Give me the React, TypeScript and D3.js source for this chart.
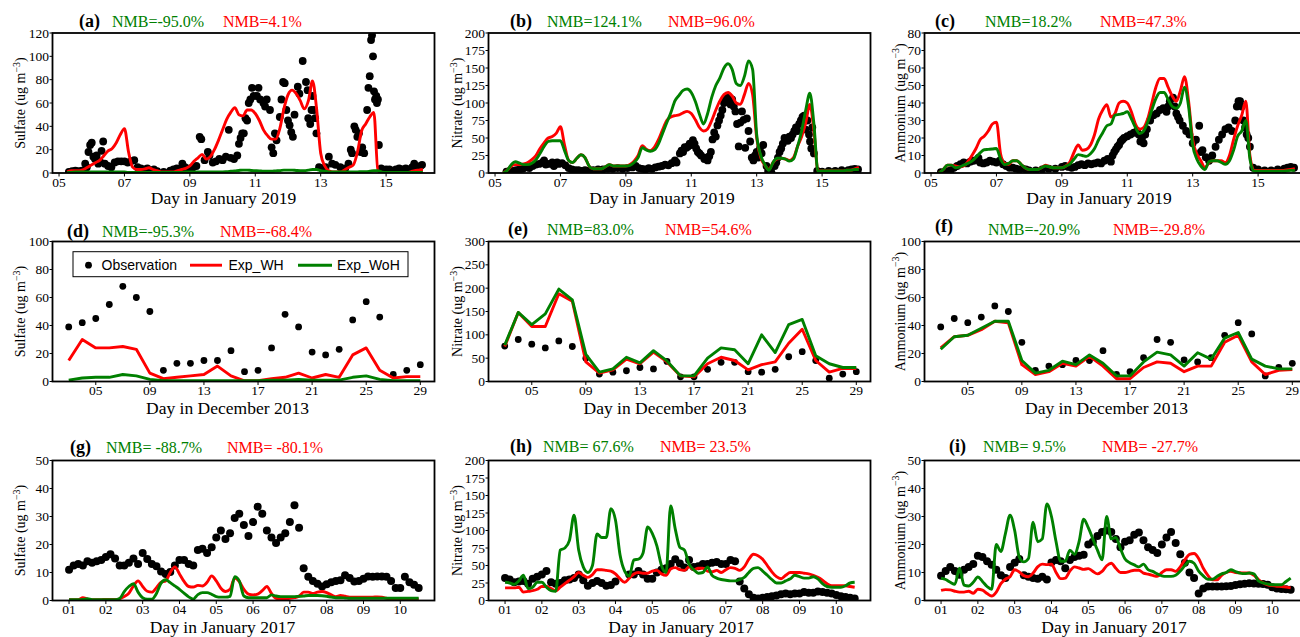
import * as d3 from "d3";

// ---------------- data ----------------
const RED = "#ff0000";
const GREEN = "#008000";

// hourly model output is sampled every 3 h (0.125 day)
const hourStep = 0.125;
const jan19Start = 5.25;
const jan17Start = 1.0;
const decDays = [3, 4, 5, 6, 7, 8, 9, 10, 11, 12, 13, 14, 15, 16, 17, 18, 19, 20, 21, 22, 23, 24, 25, 26, 27, 28, 29];

const jan19Ticks = [5, 7, 9, 11, 13, 15];
const dec13Ticks = [5, 9, 13, 17, 21, 25, 29];
const jan17Ticks = [1, 2, 3, 4, 5, 6, 7, 8, 9, 10];

// (a) sulfate, January 2019
const sulfateJan19Obs = [
  [5.3, 1], [5.4, 1.5], [5.5, 2], [5.6, 1.5], [5.7, 2], [5.8, 8], [5.85, 5], [5.9, 18], [5.95, 24], [6.0, 26],
  [6.05, 14], [6.1, 12], [6.15, 15], [6.2, 8], [6.25, 10], [6.3, 19], [6.35, 27], [6.4, 8], [6.5, 6], [6.6, 5],
  [6.7, 9], [6.8, 10], [6.9, 10], [7.0, 10], [7.1, 9], [7.2, 10], [7.3, 11], [7.4, 5], [7.5, 4], [7.6, 3],
  [7.7, 4], [7.8, 2], [7.9, 3], [8.0, 1.5], [8.2, 1], [8.4, 2], [8.5, 3], [8.6, 4], [8.7, 3], [8.77, 8],
  [8.85, 5], [9.0, 4], [9.1, 5], [9.2, 6], [9.3, 31], [9.35, 29], [9.45, 11], [9.55, 18], [9.6, 15], [9.7, 9],
  [9.8, 10], [9.9, 12], [10.0, 11], [10.1, 14], [10.19, 37], [10.25, 13], [10.35, 12], [10.45, 15], [10.5, 25], [10.55, 30],
  [10.6, 34], [10.65, 34], [10.7, 47], [10.75, 45], [10.8, 60], [10.85, 63], [10.9, 73], [10.95, 66], [11.05, 66], [11.1, 73],
  [11.15, 63], [11.25, 60], [11.3, 57], [11.35, 63], [11.45, 54], [11.5, 22], [11.55, 17], [11.6, 34], [11.65, 28], [11.75, 48],
  [11.8, 63], [11.85, 78], [11.9, 77], [11.95, 54], [12.0, 45], [12.05, 41], [12.1, 35], [12.15, 31], [12.2, 50], [12.3, 74],
  [12.35, 68], [12.45, 96], [12.55, 78], [12.6, 71], [12.62, 47], [12.68, 42], [12.72, 54], [12.75, 66], [12.8, 54], [12.83, 47],
  [12.87, 34], [12.95, 5], [13.05, 4], [13.15, 5], [13.25, 14], [13.35, 8], [13.45, 7], [13.6, 5], [13.75, 4], [13.85, 8],
  [13.92, 20], [13.96, 17], [14.03, 40], [14.07, 37], [14.12, 31], [14.17, 34], [14.22, 18], [14.27, 22], [14.33, 17], [14.42, 54],
  [14.46, 73], [14.5, 83], [14.54, 114], [14.57, 118], [14.6, 100], [14.63, 70], [14.66, 63], [14.7, 66], [14.72, 60], [14.75, 63],
  [14.78, 24], [14.85, 4], [15.0, 3], [15.1, 3], [15.2, 2], [15.3, 3], [15.4, 4], [15.5, 3], [15.6, 4], [15.7, 3],
  [15.8, 5], [15.86, 8], [15.95, 5], [16.05, 6], [16.1, 7],
];
const sulfateJan19WH = [
  1, 2, 2, 2, 3, 5, 7, 9, 11, 15, 19, 21, 26, 33, 38, 18, 5, 3, 3, 3.5,
  4.5, 3, 2, 1, 1, 1, 1, 2, 3, 4, 6, 10, 13, 16, 12, 14, 20, 28, 37, 46,
  52, 56, 50, 49, 54, 54, 51, 45, 37, 32, 29, 29, 38, 55, 67, 71, 68, 62, 55, 62,
  79, 55, 17, 6, 2, 1, 1, 1, 3, 5, 7, 18, 36, 42, 48, 52, 2, 0.5, 0.5, 0.5,
  0.5, 0.5, 0.5, 0.5, 1, 2, 2.5, 3,
];
const sulfateJan19WoH = [
  0.5, 0.5, 0.8, 0.8, 1, 1, 1, 1, 1, 1, 1, 1, 1, 1, 0.8, 0.5, 0.5, 0.5, 0.5, 0.5,
  0.5, 0.5, 0.5, 0.5, 0.5, 0.5, 0.5, 0.5, 0.5, 0.8, 1, 1, 1, 1, 1, 1, 1, 1, 1, 1.2,
  1.5, 1.8, 2.2, 2.5, 2.5, 2.2, 2, 1.8, 1.5, 1.5, 1.5, 1.8, 2, 2.5, 2.5, 2.5, 2.2, 2, 2, 2.5,
  3, 3, 2, 1.5, 1, 1, 1, 1, 1, 1, 1, 1, 1.2, 1.2, 1.5, 2, 2, 0.8, 0.5, 0.5,
  0.5, 0.5, 0.5, 0.5, 0.5, 0.5, 0.5, 0.5,
];

// (b) nitrate, January 2019
const nitrateJan19Obs = [
  [5.35, 2], [5.45, 3], [5.55, 3], [5.65, 4], [5.75, 5], [5.85, 6], [5.95, 8], [6.05, 7], [6.15, 10], [6.25, 12],
  [6.35, 13], [6.45, 15], [6.5, 18], [6.55, 12], [6.65, 13], [6.75, 15], [6.8, 10], [6.9, 15], [6.95, 13], [7.05, 14],
  [7.15, 11], [7.25, 7], [7.35, 5], [7.45, 4], [7.55, 4], [7.65, 3], [7.75, 4], [7.85, 3], [8.0, 4], [8.15, 5],
  [8.3, 5], [8.45, 6], [8.6, 6], [8.75, 7], [8.9, 6], [9.05, 7], [9.2, 8], [9.3, 10], [9.4, 7], [9.5, 6],
  [9.6, 5], [9.7, 7], [9.8, 6], [9.9, 8], [10.0, 9], [10.1, 10], [10.2, 12], [10.3, 11], [10.4, 14], [10.5, 18],
  [10.55, 15], [10.65, 28], [10.7, 32], [10.75, 30], [10.8, 37], [10.85, 36], [10.9, 38], [10.95, 42], [11.0, 40], [11.05, 47],
  [11.1, 42], [11.15, 35], [11.2, 30], [11.25, 28], [11.3, 25], [11.4, 20], [11.45, 22], [11.5, 18], [11.55, 24], [11.6, 30],
  [11.65, 48], [11.7, 58], [11.75, 52], [11.8, 68], [11.85, 75], [11.9, 82], [11.95, 90], [12.0, 100], [12.05, 106], [12.1, 108],
  [12.15, 103], [12.2, 98], [12.25, 105], [12.3, 95], [12.35, 88], [12.4, 70], [12.45, 38], [12.5, 72], [12.55, 88], [12.6, 76],
  [12.65, 36], [12.7, 78], [12.75, 60], [12.8, 45], [12.85, 22], [12.9, 18], [12.95, 25], [13.0, 30], [13.05, 22], [13.1, 35],
  [13.15, 28], [13.2, 40], [13.3, 10], [13.35, 3], [13.45, 1], [13.55, 10], [13.6, 15], [13.65, 22], [13.7, 30], [13.75, 35],
  [13.8, 42], [13.85, 50], [13.9, 48], [13.95, 46], [14.0, 52], [14.05, 50], [14.1, 55], [14.15, 60], [14.2, 65], [14.25, 60],
  [14.3, 70], [14.35, 75], [14.4, 80], [14.45, 82], [14.5, 62], [14.55, 75], [14.6, 55], [14.63, 45], [14.67, 35], [14.7, 65],
  [14.75, 28], [14.85, 3], [15.0, 2], [15.2, 3], [15.4, 3], [15.6, 4], [15.8, 4], [15.9, 5], [16.0, 6], [16.1, 5],
];
const nitrateJan19WH = [
  0, 4, 10, 12, 12, 13, 15, 19, 25, 35, 43, 50, 52, 57, 66, 40, 18, 15, 21, 26,
  22, 10, 6, 6, 6, 9, 12, 10, 10, 10, 10, 12, 17, 25, 39, 34, 32, 37, 48, 62,
  75, 80, 82, 83, 86, 88, 85, 76, 65, 60, 63, 75, 90, 103, 112, 115, 110, 100, 98, 112,
  128, 112, 50, 22, 11, 5, 15, 20, 21, 20, 18, 22, 38, 52, 72, 98, 60, 3, 3, 3,
  3, 3, 3, 3, 4, 4, 6, 8,
];
const nitrateJan19WoH = [
  0, 4, 12, 16, 14, 12, 12, 14, 19, 28, 38, 45, 46, 46, 46, 32, 18, 15, 21, 26,
  22, 10, 6, 6, 6, 9, 12, 10, 10, 10, 10, 11, 15, 22, 36, 33, 31, 33, 42, 57,
  72, 86, 103, 111, 118, 120, 115, 102, 84, 70, 85, 108, 125, 136, 150, 156, 148, 128, 125, 138,
  160, 148, 55, 25, 12, 4, 15, 21, 21, 20, 17, 20, 38, 60, 90, 114, 70, 2, 3, 3,
  3, 3, 3, 3, 4, 4, 5, 5,
];

// (c) ammonium, January 2019
const ammoniumJan19Obs = [
  [5.3, 0.5], [5.4, 0.5], [5.5, 1], [5.6, 1.5], [5.7, 3], [5.8, 4], [5.9, 5], [6.0, 6], [6.1, 5.5], [6.2, 6.5],
  [6.3, 7], [6.4, 7.5], [6.45, 8.6], [6.5, 6], [6.6, 5.5], [6.7, 6], [6.8, 7], [6.9, 6.5], [7.0, 6], [7.1, 7],
  [7.2, 5], [7.3, 4], [7.4, 3], [7.5, 3], [7.6, 2.5], [7.7, 2], [7.8, 2.5], [7.9, 2], [8.0, 1.5], [8.2, 1.5],
  [8.4, 2], [8.6, 2.5], [8.8, 2.5], [9.0, 3.5], [9.1, 4], [9.2, 3.5], [9.3, 3], [9.4, 3.5], [9.5, 4.5], [9.6, 5],
  [9.7, 4.5], [9.8, 5.5], [9.9, 5], [10.0, 5.5], [10.1, 6], [10.2, 5.5], [10.3, 7], [10.4, 8], [10.5, 6.5], [10.55, 10],
  [10.6, 12], [10.65, 13.5], [10.7, 15], [10.75, 16], [10.8, 18], [10.85, 19], [10.9, 20], [11.0, 21], [11.1, 22], [11.2, 23],
  [11.3, 24], [11.35, 22], [11.4, 18], [11.45, 20], [11.5, 17], [11.55, 22], [11.6, 25], [11.7, 30], [11.8, 33], [11.9, 34],
  [12.0, 36], [12.1, 37], [12.2, 35], [12.25, 38], [12.3, 41], [12.4, 43], [12.45, 38], [12.5, 34], [12.55, 32], [12.6, 30],
  [12.7, 27], [12.8, 24], [12.9, 22], [13.0, 17], [13.1, 19], [13.2, 27], [13.25, 12], [13.3, 13], [13.4, 9], [13.5, 7],
  [13.6, 10], [13.7, 15], [13.8, 19], [13.9, 22], [14.0, 25], [14.1, 26], [14.2, 24], [14.3, 30], [14.35, 38], [14.4, 41],
  [14.45, 41], [14.5, 38], [14.55, 30], [14.6, 26], [14.65, 22], [14.7, 20], [14.75, 15], [14.85, 3], [15.0, 2], [15.2, 1.5],
  [15.4, 1.5], [15.6, 2], [15.8, 2.5], [15.9, 3], [16.0, 3.5], [16.1, 3],
];
const ammoniumJan19WH = [
  0, 2, 4.5, 4.5, 4, 3.5, 4, 6.5, 10, 14, 19, 21, 24, 28, 29, 11, 5.5, 5, 7, 7,
  5, 3, 2, 2, 2, 3, 4.4, 3.5, 3, 3, 3, 4, 6.5, 12, 16, 13, 13.5, 16, 22, 31,
  36, 39, 32, 34, 40, 41, 40, 35, 28, 25, 26, 31, 40, 49, 54, 54, 49, 44, 41, 47,
  55, 41, 19, 11, 7, 3, 6, 7, 7, 7, 6, 10, 19, 27, 33, 41, 10, 1.5, 1.5, 1.5,
  1.5, 1.5, 1.5, 1.5, 1.5, 1.8, 2, 2.5,
];
const ammoniumJan19WoH = [
  0, 2, 4.5, 4.5, 3, 3.5, 4.5, 5.5, 6.8, 9, 11.5, 13.3, 13.5, 13.7, 14, 8, 4.8, 5.5, 7, 7,
  5, 3, 2, 2, 2, 3, 4, 3.5, 3, 3, 3, 4, 5.2, 8, 10.5, 10, 9.5, 11, 14, 19,
  23, 27, 28, 33, 33.5, 34, 35, 31, 26, 22.5, 24, 29, 36, 42.5, 46, 46, 42, 38, 37, 40,
  49, 38, 16, 8, 4, 2, 6.5, 7, 7, 6, 5, 7, 13, 21, 24, 30, 8, 1, 1, 1,
  1, 1, 1, 1, 1, 1.2, 1.5, 1.5,
];

// (d)-(f) daily means, December 2013
const sulfateDecObs = [39, 42, 45, 55, 68, 60, 50, 8, 13, 13, 15, 15, 22, 7, 8, 24, 48, 39, 21, 19, 23, 44, 57, 46, 5, 8, 12];
const sulfateDecWH = [15, 30, 24, 24, 25, 23, 6, 2, 3, 4, 5, 11, 4, 0.5, 0.5, 2, 3, 6, 2.5, 5, 3, 19, 24, 8, 2.5, 3.5, 3.5];
const sulfateDecWoH = [1, 2.5, 3, 3, 5, 4, 1.5, 0.5, 0.5, 0.5, 0.5, 0.5, 0.5, 0.5, 0.5, 1, 1, 1.5, 1, 1, 1, 3, 4, 1.5, 0.5, 0.5, 0.5];
const nitrateDecObs = [76, 90, 80, 72, 87, 75, 50, 16, 20, 23, 30, 27, 43, 10, 10, 26, 41, 41, 21, 20, 26, 53, 64, 45, 7, 16, 21];
const nitrateDecWH = [75, 148, 118, 118, 188, 172, 42, 18, 25, 48, 38, 63, 42, 12, 10, 38, 52, 45, 25, 36, 42, 82, 112, 45, 20, 28, 28];
const nitrateDecWoH = [78, 148, 122, 145, 198, 175, 58, 20, 27, 52, 40, 66, 44, 12, 12, 50, 72, 68, 38, 100, 62, 122, 133, 55, 38, 30, 30];
const ammoniumDecObs = [39, 45, 42, 46, 54, 50, 28, 8, 11, 12, 15, 15, 22, 5, 7, 17, 30, 28, 15.5, 14, 17, 33, 42, 34, 4, 10, 13];
const ammoniumDecWH = [24, 32, 33, 37, 43, 42, 12, 5, 7, 13, 11, 18, 11, 2, 2, 10, 14, 13, 7, 11, 11, 28, 33, 14, 5, 8, 8.5];
const ammoniumDecWoH = [23, 32, 33, 38, 43, 43, 15, 6, 8, 14.5, 12, 19, 13, 4, 4, 14, 21, 19, 11, 20.5, 16, 31, 35, 16, 11, 9, 9];

// (g)-(i) January 2017, every 3 h from day 1
const sulfateJan17Obs = [
  11, 12.5, 13, 12.5, 14, 13.5, 14, 14.5, 15.5, 16.5, 15, 12.5, 12.5, 13.5, 15, 13, 17, 14.8, 13, 12.2,
  10.4, 9.5, 10.2, 12.5, 14.5, 14.5, 13, 12.5, 18, 18.5, 17, 19, 22.5, 25, 22, 24, 29.5, 31, 27, 23,
  28, 33.5, 31, 25, 22.5, 20.5, 22.5, 24, 28, 34, 26, 11.5, 8.5, 7, 6, 5, 5.8, 6.5, 7, 7.2,
  9, 8, 6.8, 7, 7.8, 8.6, 8.5, 8.6, 8.6, 8.5, 7, 4.5, 4.5, 8.5, 6.5, 5.6, 4.5,
];
const sulfateJan17WH = [
  0.3, 0.3, 0.3, 1, 0.5, 0.3, 0.3, 0.3, 0.4, 0.4, 0.4, 0.6, 1.4, 2.6, 5.2, 7, 5, 3.3, 3, 4.6,
  6.5, 7, 10, 12, 9.5, 6.8, 5, 4.8, 5.4, 5.2, 6.5, 8.8, 7, 4.4, 3.2, 4, 8, 6.8, 4, 2.3,
  2, 2.3, 3.5, 5, 2.5, 0.8, 0.6, 0.6, 0.8, 1, 1.5, 3, 3, 2.5, 3, 3.2, 2.8, 2, 1.4, 1.8,
  1.5, 1.2, 1.2, 1.2, 1.2, 1.2, 1.2, 1.3, 1.2, 0.8, 0.5, 0.5, 0.5, 0.5, 0.5, 0.5, 0.5,
];
const sulfateJan17WoH = [
  0.3, 0.3, 0.3, 0.4, 0.6, 0.3, 0.3, 0.3, 0.3, 0.3, 0.3, 0.7, 3.2, 5, 6, 3, 1, 0.5, 0.5, 2.5,
  6.2, 7.4, 6.4, 5.2, 4, 2.6, 1.3, 0.5, 2.1, 2.8, 2.8, 2.2, 1.4, 1.2, 1.2, 1.5, 8.5, 7, 1.6, 1,
  1, 1, 1, 1, 2, 1.6, 1.4, 1.4, 1.4, 1.4, 1.5, 1.6, 1.8, 1.8, 1.8, 1.7, 1.5, 1.2, 1, 1,
  0.9, 0.8, 0.8, 0.8, 0.8, 0.8, 0.8, 0.8, 0.8, 0.8, 0.8, 0.8, 0.8, 0.8, 0.8, 0.8, 0.8,
];
const nitrateJan17Obs = [
  32, 30, 26, 27, 28, 24, 31, 34, 37, 42, 26, 24, 25, 29, 30, 32, 37, 29, 21, 25,
  28, 25, 21, 22, 27, null, null, 37, 37, 42, 37, 31, 31, 40, 44, 46, 52, 59, 53, 47,
  58, 48, 49, 52, 52, 54, 55, 52, 52, 58, 56, 27, 17, 9, 4, 3, 4, 5, 6, 7,
  9, 10, 9, 10, 10, 12, 11, 11, 13, 12, 11, 10, 8, 6, 5, 4, 3,
];
const nitrateJan17WH = [
  18, 18, 18, 19, 12, 13, 14, 16, 20, 20, 17, 14, 19, 24, 29, 34, 40, 36, 33, 37,
  44, 44, 43, 42, 38, 31, 26, 32, 38, 40, 39, 39, 42, 43, 38, 36, 45, 47, 44, 43,
  48, 44, 46, 46, 42, 41, 43, 40, 44, 47, 46, 43, 48, 59, 66, 64, 59, 50, 41, 34,
  31, 36, 40, 40, 40, 39, 38, 36, 33, 29, 24, 21, 21, 21, 21, 20, 19,
];
const nitrateJan17WoH = [
  26, 25, 23, 28, 36, 17, 19, 26, 26, 19, 14, 13, 72, 75, 86, 122, 72, 48, 40, 50,
  95, 90, 90, 131, 115, 65, 42, 35, 58, 59, 68, 105, 96, 78, 50, 40, 135, 102, 76, 72,
  52, 44, 39, 40, 48, 36, 32, 30, 29, 28, 28, 30, 33, 40, 46, 47, 42, 36, 30, 25,
  25, 28, 31, 36, 34, 32, 32, 34, 31, 24, 20, 19, 19, 19, 21, 25, 26,
];
const ammoniumJan17Obs = [
  8.8, 10.5, 12, 10.5, 9.2, 11, 12, 13, 16, 15.5, 14, 12.8, 11, 9, 8, 12, 13.5, 14.8, 9, 8.5,
  8, 7.8, 8.5, 7.5, 13.6, 14.5, 14, 11.5, 14.5, 15.5, 16, 16.3, 20, 21, 23, 24.5, 25, 24.5, 22, 19,
  21, 21.5, 23.5, 24.3, 21.5, 19, 18, 17, 20, 22.5, 24.5, 20.5, 16.5, 13.5, 10, 8, 2.5, 4.3, 5, 5,
  5, 5, 5.1, 5.2, 5.5, 5.8, 6, 6.2, 6.1, 6, 5.9, 5.6, 4.7, 4.3, 4.1, 4, 3.8,
];
const ammoniumJan17WH = [
  3.6, 3.9, 3.8, 3.3, 3, 3, 3.3, 2.6, 4, 3.7, 2.5, 1.6, 3, 6, 7.6, 8.5, 11, 10.2, 8.9, 8.5,
  9.8, 12, 13, 12.8, 13, 10, 7.8, 8, 10.5, 12, 11.6, 11.1, 11.4, 10.4, 9.5, 10.4, 12.4, 13.3, 11.5, 10,
  10, 10.4, 10.8, 10.8, 9.8, 9.4, 9, 8.6, 10, 11, 11, 10.4, 12, 14.5, 16.5, 16.8, 15, 11.5, 9, 7.4,
  7.4, 9, 10, 10.4, 10, 9.9, 9.8, 9.8, 9, 7.5, 6.3, 5.6, 5.3, 5.1, 5, 4.8, 4.5,
];
const ammoniumJan17WoH = [
  8, 7.5, 6.5, 5.8, 11.5, 5.5, 5.2, 6.5, 8.4, 6.8, 5, 4, 20, 17.5, 24, 30.5, 25, 15.5, 13.8, 15,
  28, 21, 22, 34.5, 30, 21, 14, 14, 18, 16.5, 21, 29, 26, 22, 18, 14.5, 30, 22, 22.5, 18.5,
  14.8, 13.5, 12.7, 12, 13, 11, 10.4, 9.5, 8.8, 8.6, 8.6, 9, 10.5, 12.5, 14, 13.3, 10.5, 8.8, 7.6, 7.6,
  8.6, 9.5, 10, 11, 10.3, 9.8, 9.6, 9.8, 9.5, 7, 6.3, 5.9, 5.6, 5.6, 5.6, 6.8, 8,
];

// ---------------- layout ----------------
const W = 382;
const H = 140;
const colLeft = [52.5, 488.5, 924.5];
const yLabelX = [25, 462, 904.5];

type Pt = [number, number | null];
const hourly = (start: number, vals: (number | null)[]): Pt[] => vals.map((v, i) => [start + i * hourStep, v]);
const daily = (vals: number[]): Pt[] => vals.map((v, i) => [decDays[i], v]);

const rows = [
  { top: 33, domain: [4.8, 16.48], ticks: jan19Ticks, xLabel: "Day in January 2019", curve: d3.curveMonotoneX, labelY: 203.5, dotR: 3.9 },
  { top: 241.5, domain: [1.8, 30.05], ticks: dec13Ticks, xLabel: "Day in December 2013", curve: d3.curveLinear, labelY: 414, dotR: 3.4 },
  { top: 460.5, domain: [0.55, 10.93], ticks: jan17Ticks, xLabel: "Day in January 2017", curve: d3.curveMonotoneX, labelY: 633, dotR: 4 },
];

const panels = [
  { id: "a", row: 0, col: 0, species: "Sulfate", yMax: 120, yStep: 20,
    obs: sulfateJan19Obs as Pt[], wh: hourly(jan19Start, sulfateJan19WH), woh: hourly(jan19Start, sulfateJan19WoH),
    nmbWoH: "NMB=-95.0%", nmbWH: "NMB=4.1%", tx: 79, gx: 112, rx: 223, ty: 26.7, ny: 26.7, lx: 223.5 },
  { id: "b", row: 0, col: 1, species: "Nitrate", yMax: 200, yStep: 25,
    obs: nitrateJan19Obs as Pt[], wh: hourly(jan19Start, nitrateJan19WH), woh: hourly(jan19Start, nitrateJan19WoH),
    nmbWoH: "NMB=124.1%", nmbWH: "NMB=96.0%", tx: 510, gx: 547, rx: 668, ty: 26.7, ny: 26.7, lx: 662 },
  { id: "c", row: 0, col: 2, species: "Ammonium", yMax: 80, yStep: 10,
    obs: ammoniumJan19Obs as Pt[], wh: hourly(jan19Start, ammoniumJan19WH), woh: hourly(jan19Start, ammoniumJan19WoH),
    nmbWoH: "NMB=18.2%", nmbWH: "NMB=47.3%", tx: 935, gx: 985, rx: 1100, ty: 26.7, ny: 26.7, lx: 1099 },
  { id: "d", row: 1, col: 0, species: "Sulfate", yMax: 100, yStep: 20,
    obs: daily(sulfateDecObs), wh: daily(sulfateDecWH), woh: daily(sulfateDecWoH),
    nmbWoH: "NMB=-95.3%", nmbWH: "NMB=-68.4%", tx: 67, gx: 102, rx: 220, ty: 236.5, ny: 236.5, lx: 227.5 },
  { id: "e", row: 1, col: 1, species: "Nitrate", yMax: 300, yStep: 50,
    obs: daily(nitrateDecObs), wh: daily(nitrateDecWH), woh: daily(nitrateDecWoH),
    nmbWoH: "NMB=83.0%", nmbWH: "NMB=54.6%", tx: 508, gx: 547, rx: 665, ty: 235, ny: 235, lx: 665 },
  { id: "f", row: 1, col: 2, species: "Ammonium", yMax: 100, yStep: 20,
    obs: daily(ammoniumDecObs), wh: daily(ammoniumDecWH), woh: daily(ammoniumDecWoH),
    nmbWoH: "NMB=-20.9%", nmbWH: "NMB=-29.8%", tx: 935, gx: 988, rx: 1113, ty: 232, ny: 235, lx: 1106.5 },
  { id: "g", row: 2, col: 0, species: "Sulfate", yMax: 50, yStep: 10,
    obs: hourly(jan17Start, sulfateJan17Obs), wh: hourly(jan17Start, sulfateJan17WH), woh: hourly(jan17Start, sulfateJan17WoH),
    nmbWoH: "NMB= -88.7%", nmbWH: "NMB= -80.1%", tx: 70, gx: 106, rx: 227, ty: 452.7, ny: 452.7, lx: 222.5 },
  { id: "h", row: 2, col: 1, species: "Nitrate", yMax: 200, yStep: 25,
    obs: hourly(jan17Start, nitrateJan17Obs), wh: hourly(jan17Start, nitrateJan17WH), woh: hourly(jan17Start, nitrateJan17WoH),
    nmbWoH: "NMB= 67.6%", nmbWH: "NMB= 23.5%", tx: 510, gx: 543, rx: 660, ty: 451.7, ny: 451.7, lx: 681 },
  { id: "i", row: 2, col: 2, species: "Ammonium", yMax: 50, yStep: 10,
    obs: hourly(jan17Start, ammoniumJan17Obs), wh: hourly(jan17Start, ammoniumJan17WH), woh: hourly(jan17Start, ammoniumJan17WoH),
    nmbWoH: "NMB= 9.5%", nmbWH: "NMB= -27.7%", tx: 949, gx: 983, rx: 1102, ty: 452.3, ny: 452.3, lx: 1114 },
];

const SERIF = "'Liberation Serif', 'Times New Roman', serif";
const SANS = "'Liberation Sans', Arial, sans-serif";

function Panel({ p }: { p: any }) {
  const r = rows[p.row];
  const left = colLeft[p.col];
  const top = r.top;
  const x = d3.scaleLinear().domain(r.domain).range([left, left + W]);
  const y = d3.scaleLinear().domain([0, p.yMax]).range([top + H, top]);
  const line = d3
    .line<Pt>()
    .defined((d) => d[1] != null)
    .x((d) => x(d[0]))
    .y((d) => y(d[1] as number))
    .curve(r.curve);
  const yTicks = d3.range(0, p.yMax + 1e-6, p.yStep);
  const fmt = d3.format("02d");
  const clipId = `clip-${p.id}`;
  return (
    <g>
      <defs>
        <clipPath id={clipId}>
          <rect x={left} y={top} width={W} height={H} />
        </clipPath>
      </defs>
      <g clipPath={`url(#${clipId})`}>
        {p.obs
          .filter((d: Pt) => d[1] != null)
          .map((d: Pt, i: number) => (
            <circle key={i} cx={x(d[0])} cy={y(d[1] as number)} r={r.dotR} fill="#000" />
          ))}
        <path d={line(p.wh) || ""} fill="none" stroke={RED} strokeWidth={2.9} strokeLinejoin="round" />
        <path d={line(p.woh) || ""} fill="none" stroke={GREEN} strokeWidth={2.9} strokeLinejoin="round" />
      </g>
      <rect x={left} y={top} width={W} height={H} fill="none" stroke="#000" strokeWidth={1.8} />
      {r.ticks.map((t) => (
        <g key={t}>
          <line x1={x(t)} x2={x(t)} y1={top + H} y2={top + H + 3.5} stroke="#000" strokeWidth={1} />
          <text x={x(t)} y={top + H + 13.5} textAnchor="middle" fontSize={13.5} fontFamily={SERIF}>
            {fmt(t)}
          </text>
        </g>
      ))}
      {yTicks.map((t) => (
        <g key={t}>
          <line x1={left - 3} x2={left} y1={y(t)} y2={y(t)} stroke="#000" strokeWidth={1} />
          <text x={left - 3.5} y={y(t) + 4.5} textAnchor="end" fontSize={13.5} fontFamily={SERIF}>
            {t}
          </text>
        </g>
      ))}
      <text
        transform={`translate(${yLabelX[p.col]},${top + H / 2}) rotate(-90)`}
        textAnchor="middle"
        fontSize={14}
        fontFamily={SERIF}
      >
        {p.species} (ug m
        <tspan dy={-5.5} fontSize={10}>
          −3
        </tspan>
        <tspan dy={5.5}>)</tspan>
      </text>
      <text x={p.lx} y={r.labelY} textAnchor="middle" fontSize={17.5} fontFamily={SERIF}>
        {r.xLabel}
      </text>
      <text x={p.tx} y={p.ty} fontSize={18} fontWeight="bold" fontFamily={SERIF}>
        ({p.id})
      </text>
      <text x={p.gx} y={p.ny} fontSize={16} fill={GREEN} fontFamily={SERIF}>
        {p.nmbWoH}
      </text>
      <text x={p.rx} y={p.ny} fontSize={16} fill={RED} fontFamily={SERIF}>
        {p.nmbWH}
      </text>
    </g>
  );
}

function Legend() {
  const lx = 73, ly = 251.7, lw = 335, lh = 25;
  const cy = ly + lh / 2 + 1;
  return (
    <g fontFamily={SANS} fontSize={14}>
      <rect x={lx} y={ly} width={lw} height={lh} fill="#fff" stroke="#000" strokeWidth={1} />
      <circle cx={88.5} cy={cy} r={3.4} fill="#000" />
      <text x={101.5} y={cy + 5}>Observation</text>
      <line x1={190} x2={222} y1={cy} y2={cy} stroke={RED} strokeWidth={2.9} />
      <text x={228.5} y={cy + 5}>Exp_WH</text>
      <line x1={298} x2={332} y1={cy} y2={cy} stroke={GREEN} strokeWidth={2.9} />
      <text x={337} y={cy + 5}>Exp_WoH</text>
    </g>
  );
}

export default function App() {
  return (
    <div style={{ position: "absolute", left: 0, top: 0 }}>
      <svg width={1300} height={637} viewBox="0 0 1300 637" style={{ display: "block", background: "#fff" }}>
        {panels.map((p) => (
          <Panel key={p.id} p={p} />
        ))}
        <Legend />
      </svg>
    </div>
  );
}
